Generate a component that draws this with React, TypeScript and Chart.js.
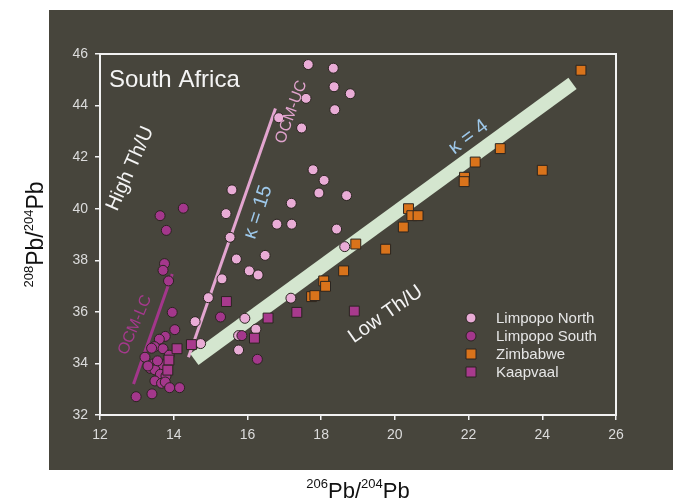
import React, { useEffect, useRef } from 'react';
import { Chart, registerables } from 'chart.js';

Chart.register(...registerables);

// 206Pb/204Pb vs 208Pb/204Pb for South African samples
const seriesNames = ['Limpopo North', 'Limpopo South', 'Zimbabwe', 'Kaapvaal'];

const limpopoNorth = [
  { x: 16.85, y: 43.53 }, { x: 15.58, y: 40.73 }, { x: 15.42, y: 39.81 }, { x: 17.19, y: 40.21 },
  { x: 15.53, y: 38.89 }, { x: 16.80, y: 39.40 }, { x: 17.20, y: 39.40 }, { x: 15.70, y: 38.05 },
  { x: 16.48, y: 38.19 }, { x: 16.05, y: 37.59 }, { x: 16.29, y: 37.43 }, { x: 15.31, y: 37.28 },
  { x: 14.94, y: 36.55 }, { x: 17.18, y: 36.53 }, { x: 14.58, y: 35.62 }, { x: 15.93, y: 35.75 },
  { x: 16.23, y: 35.33 }, { x: 15.76, y: 35.08 }, { x: 14.73, y: 34.77 }, { x: 15.76, y: 34.52 },
  { x: 17.65, y: 45.59 }, { x: 18.33, y: 45.45 }, { x: 18.35, y: 44.73 }, { x: 18.79, y: 44.46 },
  { x: 17.59, y: 44.28 }, { x: 18.37, y: 43.84 }, { x: 17.47, y: 43.13 }, { x: 17.78, y: 41.51 },
  { x: 18.08, y: 41.10 }, { x: 17.94, y: 40.61 }, { x: 18.69, y: 40.51 }, { x: 18.42, y: 39.21 },
  { x: 18.64, y: 38.53 },
];

const limpopoSouth = [
  { x: 14.26, y: 40.02 }, { x: 13.63, y: 39.73 }, { x: 13.80, y: 39.16 }, { x: 13.75, y: 37.87 },
  { x: 13.71, y: 37.61 }, { x: 13.86, y: 37.20 }, { x: 13.96, y: 35.98 }, { x: 15.27, y: 35.80 },
  { x: 14.03, y: 35.31 }, { x: 13.77, y: 35.05 }, { x: 13.61, y: 34.94 }, { x: 15.85, y: 35.08 },
  { x: 16.27, y: 34.16 }, { x: 13.48, y: 34.65 }, { x: 13.40, y: 34.59 }, { x: 13.71, y: 34.57 },
  { x: 13.22, y: 34.24 }, { x: 13.88, y: 34.32 }, { x: 13.45, y: 33.98 }, { x: 13.68, y: 33.95 },
  { x: 13.36, y: 33.81 }, { x: 13.49, y: 33.75 }, { x: 13.64, y: 33.58 }, { x: 13.79, y: 33.51 },
  { x: 13.49, y: 33.32 }, { x: 13.67, y: 33.23 }, { x: 13.77, y: 33.28 }, { x: 13.89, y: 33.06 },
  { x: 14.16, y: 33.06 }, { x: 13.41, y: 32.82 }, { x: 12.98, y: 32.71 }, { x: 13.30, y: 33.90 },
  { x: 13.56, y: 34.10 },
];

const zimbabwe = [
  { x: 25.05, y: 45.37 }, { x: 22.86, y: 42.33 }, { x: 22.18, y: 41.81 }, { x: 21.89, y: 41.22 },
  { x: 21.88, y: 41.05 }, { x: 24.00, y: 41.49 }, { x: 20.37, y: 40.00 }, { x: 20.46, y: 39.73 },
  { x: 20.63, y: 39.73 }, { x: 20.23, y: 39.29 }, { x: 18.94, y: 38.63 }, { x: 19.75, y: 38.43 },
  { x: 18.61, y: 37.59 }, { x: 18.07, y: 37.20 }, { x: 18.12, y: 36.99 }, { x: 17.74, y: 36.59 },
  { x: 17.83, y: 36.63 },
];

const kaapvaal = [
  { x: 15.43, y: 36.40 }, { x: 16.56, y: 35.76 }, { x: 16.19, y: 34.98 }, { x: 14.48, y: 34.73 },
  { x: 14.09, y: 34.57 }, { x: 13.87, y: 34.13 }, { x: 13.84, y: 33.74 }, { x: 17.34, y: 35.98 },
  { x: 18.90, y: 36.03 },
];

// Reference lines: kappa = 4 growth band, upper and lower crust (OCM) trends
const kappa4Band = [{ x: 14.56, y: 34.16 }, { x: 24.82, y: 44.86 }];
const ocmUpperCrust = [{ x: 14.40, y: 34.24 }, { x: 16.76, y: 43.89 }];
const ocmLowerCrust = [{ x: 12.91, y: 33.20 }, { x: 13.96, y: 37.47 }];

const xTickValues = [12, 14, 16, 18, 20, 22, 24, 26];
const yTickValues = [32, 34, 36, 38, 40, 42, 44, 46];

const FONT = '"Liberation Sans", Arial, sans-serif';
const PANEL = '#47453c';
const FRAME = '#f2f2f2';
const TICK_TEXT = '#dcdcdc';

const northFill = '#e9acd6';
const southFill = '#a4378c';
const zimFill = '#d9731b';
const kaapFill = '#a83a8d';
const markerEdge = '#2a2520';

type Part = [string, boolean];

function drawIsotopeText(ctx: CanvasRenderingContext2D, parts: Part[], big: number, small: number) {
  const bigFont = `${big}px ${FONT}`;
  const smallFont = `${small}px ${FONT}`;
  let total = 0;
  for (const [t, sup] of parts) {
    ctx.font = sup ? smallFont : bigFont;
    total += ctx.measureText(t).width;
  }
  let x = -total / 2;
  ctx.textAlign = 'left';
  ctx.textBaseline = 'alphabetic';
  for (const [t, sup] of parts) {
    ctx.font = sup ? smallFont : bigFont;
    ctx.fillText(t, x, sup ? -Math.round(big * 0.45) : 0);
    x += ctx.measureText(t).width;
  }
}

const panelPlugin = {
  id: 'panel',
  beforeDraw(chart: any) {
    const { ctx, width, height } = chart;
    ctx.save();
    ctx.fillStyle = '#ffffff';
    ctx.fillRect(0, 0, width, height);
    ctx.fillStyle = PANEL;
    ctx.fillRect(49, 10, width - 49, 460);
    ctx.restore();
  },
};

const labelsPlugin = {
  id: 'labels',
  afterDatasetsDraw(chart: any) {
    const { ctx, chartArea, scales } = chart;
    const sx = (v: number) => scales.x.getPixelForValue(v);
    const sy = (v: number) => scales.y.getPixelForValue(v);

    const rotated = (text: string, x: number, y: number, deg: number, size: number, color: string) => {
      ctx.save();
      ctx.translate(sx(x), sy(y));
      ctx.rotate((deg * Math.PI) / 180);
      ctx.font = `${size}px ${FONT}`;
      ctx.fillStyle = color;
      ctx.textAlign = 'center';
      ctx.textBaseline = 'middle';
      ctx.fillText(text, 0, 0);
      ctx.restore();
    };

    ctx.save();
    // frame around the plot area
    ctx.strokeStyle = FRAME;
    ctx.lineWidth = 2;
    ctx.strokeRect(chartArea.left, chartArea.top, chartArea.right - chartArea.left, chartArea.bottom - chartArea.top);

    ctx.fillStyle = '#f4f4f4';
    ctx.font = `24px ${FONT}`;
    ctx.textAlign = 'left';
    ctx.textBaseline = 'alphabetic';
    ctx.fillText('South Africa', chartArea.left + 9, chartArea.top + 33);
    ctx.restore();

    rotated('High Th/U', 12.82, 41.55, -66, 20, '#f4f4f4');
    rotated('Low Th/U', 19.75, 35.9, -35, 20, '#f4f4f4');
    rotated('OCM-UC', 17.19, 43.75, -70, 16, '#e0a3cd');
    rotated('OCM-LC', 12.95, 35.49, -67, 16, '#a5398d');
    rotated('κ = 15', 16.29, 39.87, -72, 20, '#9ec8ea');
    rotated('κ = 4', 22.0, 42.78, -37, 20, '#9ec8ea');

    // legend
    const legendX = 471;
    const legendY = 318;
    const rowH = 18;
    const styles = [
      { fill: northFill, shape: 'circle' },
      { fill: southFill, shape: 'circle' },
      { fill: zimFill, shape: 'rect' },
      { fill: kaapFill, shape: 'rect' },
    ];
    ctx.save();
    seriesNames.forEach((name, i) => {
      const cy = legendY + i * rowH;
      ctx.fillStyle = styles[i].fill;
      ctx.strokeStyle = markerEdge;
      ctx.lineWidth = 1;
      ctx.beginPath();
      if (styles[i].shape === 'circle') ctx.arc(legendX, cy, 5, 0, Math.PI * 2);
      else ctx.rect(legendX - 5, cy - 5, 10, 10);
      ctx.fill();
      ctx.stroke();
      ctx.fillStyle = '#e6e6e6';
      ctx.font = `15px ${FONT}`;
      ctx.textAlign = 'left';
      ctx.textBaseline = 'middle';
      ctx.fillText(name, legendX + 25, cy + 1);
    });
    ctx.restore();

    // axis titles
    ctx.save();
    ctx.fillStyle = '#111111';
    ctx.translate((chartArea.left + chartArea.right) / 2, 498);
    drawIsotopeText(ctx, [['206', true], ['Pb/', false], ['204', true], ['Pb', false]], 22, 13);
    ctx.restore();

    ctx.save();
    ctx.fillStyle = '#111111';
    ctx.translate(43, (chartArea.top + chartArea.bottom) / 2);
    ctx.rotate(-Math.PI / 2);
    drawIsotopeText(ctx, [['208', true], ['Pb/', false], ['204', true], ['Pb', false]], 23, 13);
    ctx.restore();
  },
};

const pointSet = (label: string, data: any[], fill: string, style: string, radius: number, order: number) => ({
  type: 'scatter' as const,
  label,
  data,
  backgroundColor: fill,
  borderColor: markerEdge,
  borderWidth: 1,
  pointStyle: style,
  pointRadius: radius,
  order,
});

const lineSet = (label: string, data: any[], color: string, width: number, order: number) => ({
  type: 'line' as const,
  label,
  data,
  borderColor: color,
  borderWidth: width,
  borderCapStyle: 'butt',
  pointRadius: 0,
  fill: false,
  order,
});

export default function App() {
  const canvasRef = useRef<HTMLCanvasElement | null>(null);

  useEffect(() => {
    if (!canvasRef.current) return;
    const chart = new Chart(canvasRef.current, {
      type: 'scatter',
      data: {
        datasets: [
          pointSet(seriesNames[3], kaapvaal, kaapFill, 'rect', 7, 1),
          pointSet(seriesNames[2], zimbabwe, zimFill, 'rect', 7, 2),
          pointSet(seriesNames[1], limpopoSouth, southFill, 'circle', 5, 3),
          pointSet(seriesNames[0], limpopoNorth, northFill, 'circle', 5, 4),
          lineSet('kappa4', kappa4Band, '#d4e6cf', 14, 10),
          lineSet('ocmUC', ocmUpperCrust, '#e3a5d0', 3, 11),
          lineSet('ocmLC', ocmLowerCrust, '#a3368b', 3, 12),
        ] as any,
      },
      options: {
        responsive: false,
        animation: false,
        devicePixelRatio: 1,
        layout: { padding: { left: 0, top: 54, right: 57, bottom: 0 } },
        plugins: {
          legend: { display: false },
          tooltip: { enabled: false },
        },
        scales: {
          x: {
            type: 'linear',
            min: 12,
            max: 26,
            afterBuildTicks: (scale: any) => {
              scale.ticks = xTickValues.map((v) => ({ value: v }));
            },
            afterFit: (scale: any) => {
              scale.height = 86;
            },
            ticks: { color: TICK_TEXT, font: { family: FONT, size: 14 }, padding: 7 },
            grid: { display: true, drawOnChartArea: false, drawTicks: true, tickLength: 5, tickColor: FRAME, lineWidth: 1.5 },
            border: { display: false },
          },
          y: {
            type: 'linear',
            min: 32,
            max: 46,
            afterBuildTicks: (scale: any) => {
              scale.ticks = yTickValues.map((v) => ({ value: v }));
            },
            afterFit: (scale: any) => {
              scale.width = 100;
            },
            ticks: { color: TICK_TEXT, font: { family: FONT, size: 14 }, padding: 7 },
            grid: { display: true, drawOnChartArea: false, drawTicks: true, tickLength: 5, tickColor: FRAME, lineWidth: 1.5 },
            border: { display: false },
          },
        },
      } as any,
      plugins: [panelPlugin, labelsPlugin],
    });
    return () => chart.destroy();
  }, []);

  return (
    <div style={{ position: 'absolute', left: 0, top: 0, width: 673, height: 501 }}>
      <canvas ref={canvasRef} width={673} height={501} style={{ display: 'block', width: 673, height: 501 }} />
    </div>
  );
}
